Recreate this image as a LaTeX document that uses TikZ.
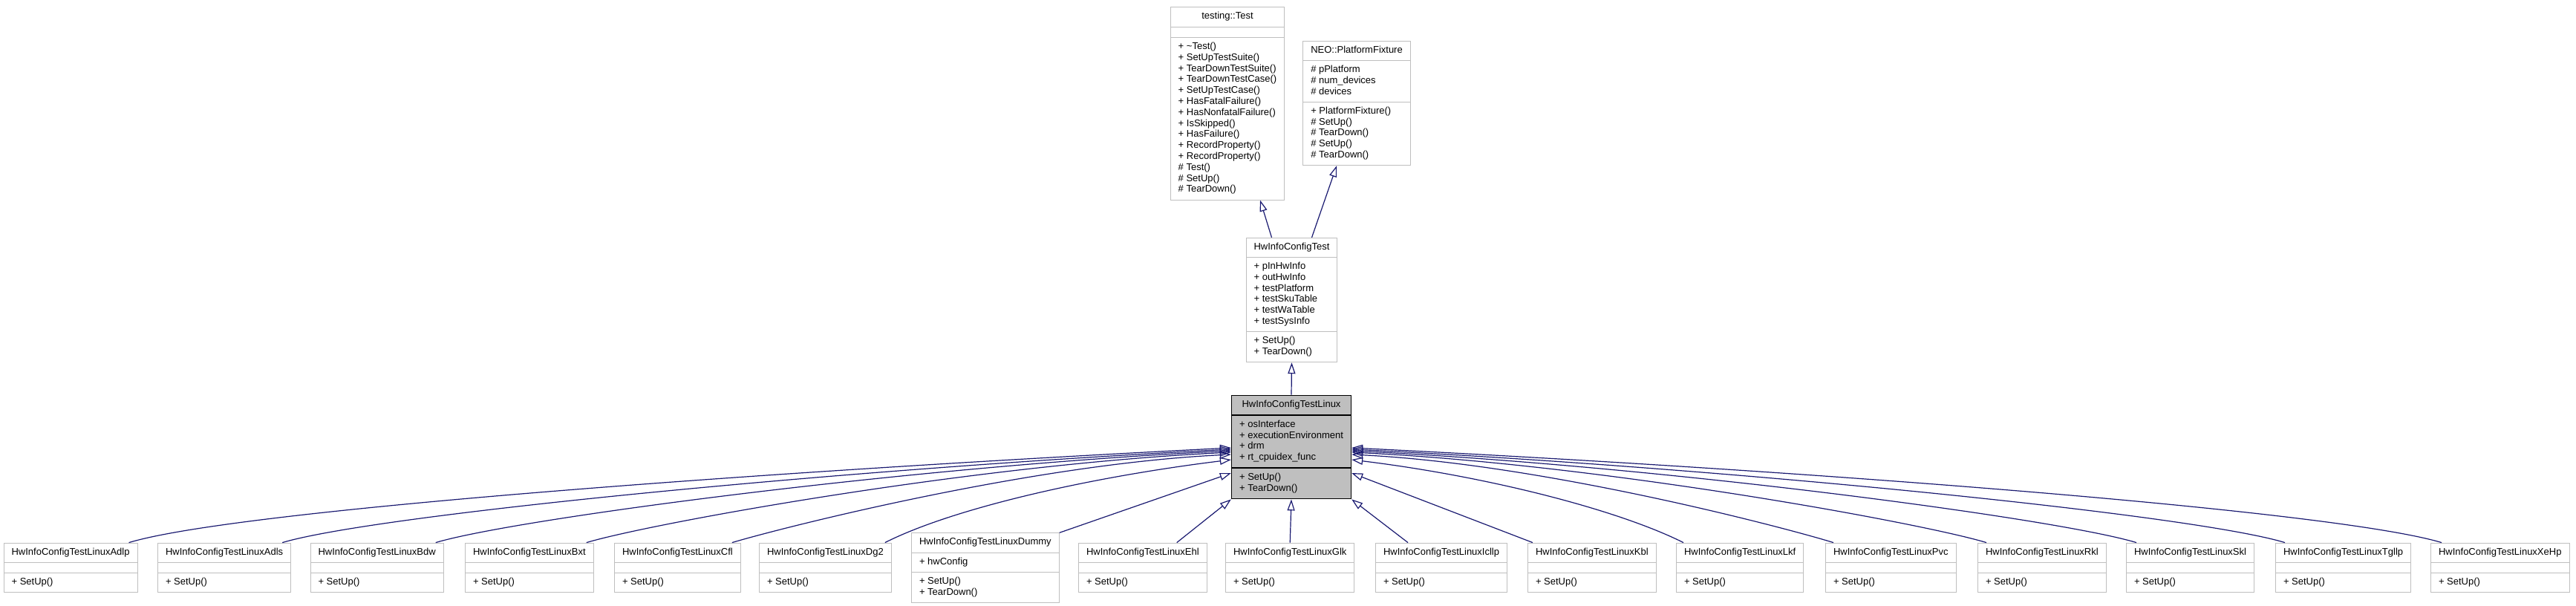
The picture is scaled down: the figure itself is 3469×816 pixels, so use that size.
\documentclass[tikz,border=0pt]{standalone}
\usepackage{fontspec}
\setmainfont{Liberation Sans}
\usetikzlibrary{shapes.multipart,arrows.meta}
\definecolor{boxgray}{RGB}{191,191,191}
\definecolor{edgeblue}{RGB}{25,25,112}
\tikzset{
  classbox/.style={rectangle split, rectangle split parts=3,
    rectangle split part align={center,left,left},
    draw=boxgray, fill=white, line width=1pt,
    inner xsep=10.5pt, inner ysep=5.2pt,
    font=\fontsize{13pt}{14.8pt}\selectfont},
  mainclass/.style={classbox, draw=black, fill=boxgray, line width=1.5pt},
  inherit/.style={draw=edgeblue, line width=1.2pt,
    -{Triangle[open,length=15pt,width=10pt]}}
}
\newcommand{\members}[1]{\begin{tabular}{@{}l@{}}#1\end{tabular}}
\newcommand{\linuxleaf}[3]{\node[classbox,anchor=west] (#1) at (#2,764.5)
  {\members{HwInfoConfigTestLinux#3}\nodepart{two}\members{}\nodepart{three}\members{+ SetUp()}};}

\begin{document}
\begin{tikzpicture}[x=1pt,y=-1pt]
\useasboundingbox (0,0) rectangle (3469,816);
% base classes
\node[classbox] (gtest) at (1653,139.5) {\members{testing::Test}\nodepart{two}\members{}\nodepart{three}\members{+ \textasciitilde Test()\\+ SetUpTestSuite()\\+ TearDownTestSuite()\\+ TearDownTestCase()\\+ SetUpTestCase()\\+ HasFatalFailure()\\+ HasNonfatalFailure()\\+ IsSkipped()\\+ HasFailure()\\+ RecordProperty()\\+ RecordProperty()\\\# Test()\\\# SetUp()\\\# TearDown()}};
\node[classbox] (fixture) at (1827,139) {\members{NEO::PlatformFixture}\nodepart{two}\members{\# pPlatform\\\# num\_devices\\\# devices}\nodepart{three}\members{+ PlatformFixture()\\\# SetUp()\\\# TearDown()\\\# SetUp()\\\# TearDown()}};
\node[classbox] (hwtest) at (1739.5,404) {\members{HwInfoConfigTest}\nodepart{two}\members{+ pInHwInfo\\+ outHwInfo\\+ testPlatform\\+ testSkuTable\\+ testWaTable\\+ testSysInfo}\nodepart{three}\members{+ SetUp()\\+ TearDown()}};
\node[mainclass] (main) at (1739,602) {\members{HwInfoConfigTestLinux}\nodepart{two}\members{+ osInterface\\+ executionEnvironment\\+ drm\\+ rt\_cpuidex\_func}\nodepart{three}\members{+ SetUp()\\+ TearDown()}};
\draw[inherit] ([xshift=-27pt]hwtest.north) -- ([xshift=44pt]gtest.south);
\draw[inherit] ([xshift=27pt]hwtest.north) -- ([xshift=-27pt]fixture.south);
\draw[inherit] (main.north) -- (hwtest.south);
% derived classes
\linuxleaf{adlp}{4.6}{Adlp}
\linuxleaf{adls}{212}{Adls}
\linuxleaf{bdw}{417.5}{Bdw}
\linuxleaf{bxt}{626}{Bxt}
\linuxleaf{cfl}{827}{Cfl}
\linuxleaf{dgtwo}{1022}{Dg2}
\node[classbox,anchor=west] (dummy) at (1227,764.5) {\members{HwInfoConfigTestLinuxDummy}\nodepart{two}\members{+ hwConfig}\nodepart{three}\members{+ SetUp()\\+ TearDown()}};
\linuxleaf{ehl}{1452}{Ehl}
\linuxleaf{glk}{1650}{Glk}
\linuxleaf{icllp}{1852}{Icllp}
\linuxleaf{kbl}{2057}{Kbl}
\linuxleaf{lkf}{2257}{Lkf}
\linuxleaf{pvc}{2458}{Pvc}
\linuxleaf{rkl}{2663}{Rkl}
\linuxleaf{skl}{2863}{Skl}
\linuxleaf{tgllp}{3064}{Tgllp}
\linuxleaf{xehp}{3273}{XeHp}
% left side
\draw[inherit] ([xshift=-12pt]adlp.north east) .. controls +(149,-45) and +(-594,30) .. ([yshift=-1pt]main.west);
\draw[inherit] ([xshift=-12pt]adls.north east) .. controls +(128,-38) and +(-511,26) .. ([yshift=-3pt]main.west);
\draw[inherit] ([xshift=-11pt]bdw.north east) .. controls +(107,-32) and +(-429,21) .. ([yshift=-5pt]main.west);
\draw[inherit] ([xshift=-10pt]bxt.north east) .. controls +(87,-26) and +(-348,17) .. ([yshift=-7pt]main.west);
\draw[inherit] ([xshift=-12pt]cfl.north east) .. controls +(67,-20) and +(-269,13) .. ([yshift=-10pt]main.west);
\draw[inherit] ([xshift=-9pt]dgtwo.north east) .. controls +(93,-47) and +(-187,23) .. ([yshift=-17pt]main.west);
\draw[inherit] (dummy.north east) -- ([yshift=-35pt]main.west);
\draw[inherit] ([xshift=-41pt]ehl.north east) -- (main.south west);
\draw[inherit] (glk.north) -- (main.south);
% right side
\draw[inherit] ([xshift=44pt]icllp.north west) -- (main.south east);
\draw[inherit] ([xshift=7pt]kbl.north west) -- ([yshift=-35pt]main.east);
\draw[inherit] ([xshift=10pt]lkf.north west) .. controls +(-90,-45) and +(180,22) .. ([yshift=-17pt]main.east);
\draw[inherit] ([xshift=11pt]pvc.north west) .. controls +(-65,-20) and +(260,13) .. ([yshift=-10pt]main.east);
\draw[inherit] ([xshift=12pt]rkl.north west) .. controls +(-86,-26) and +(342,17) .. ([yshift=-7pt]main.east);
\draw[inherit] ([xshift=14pt]skl.north west) .. controls +(-106,-32) and +(423,21) .. ([yshift=-5pt]main.east);
\draw[inherit] ([xshift=13pt]tgllp.north west) .. controls +(-126,-38) and +(503,25) .. ([yshift=-3pt]main.east);
\draw[inherit] ([xshift=15pt]xehp.north west) .. controls +(-147,-44) and +(588,29) .. ([yshift=-1pt]main.east);
\end{tikzpicture}
\end{document}
